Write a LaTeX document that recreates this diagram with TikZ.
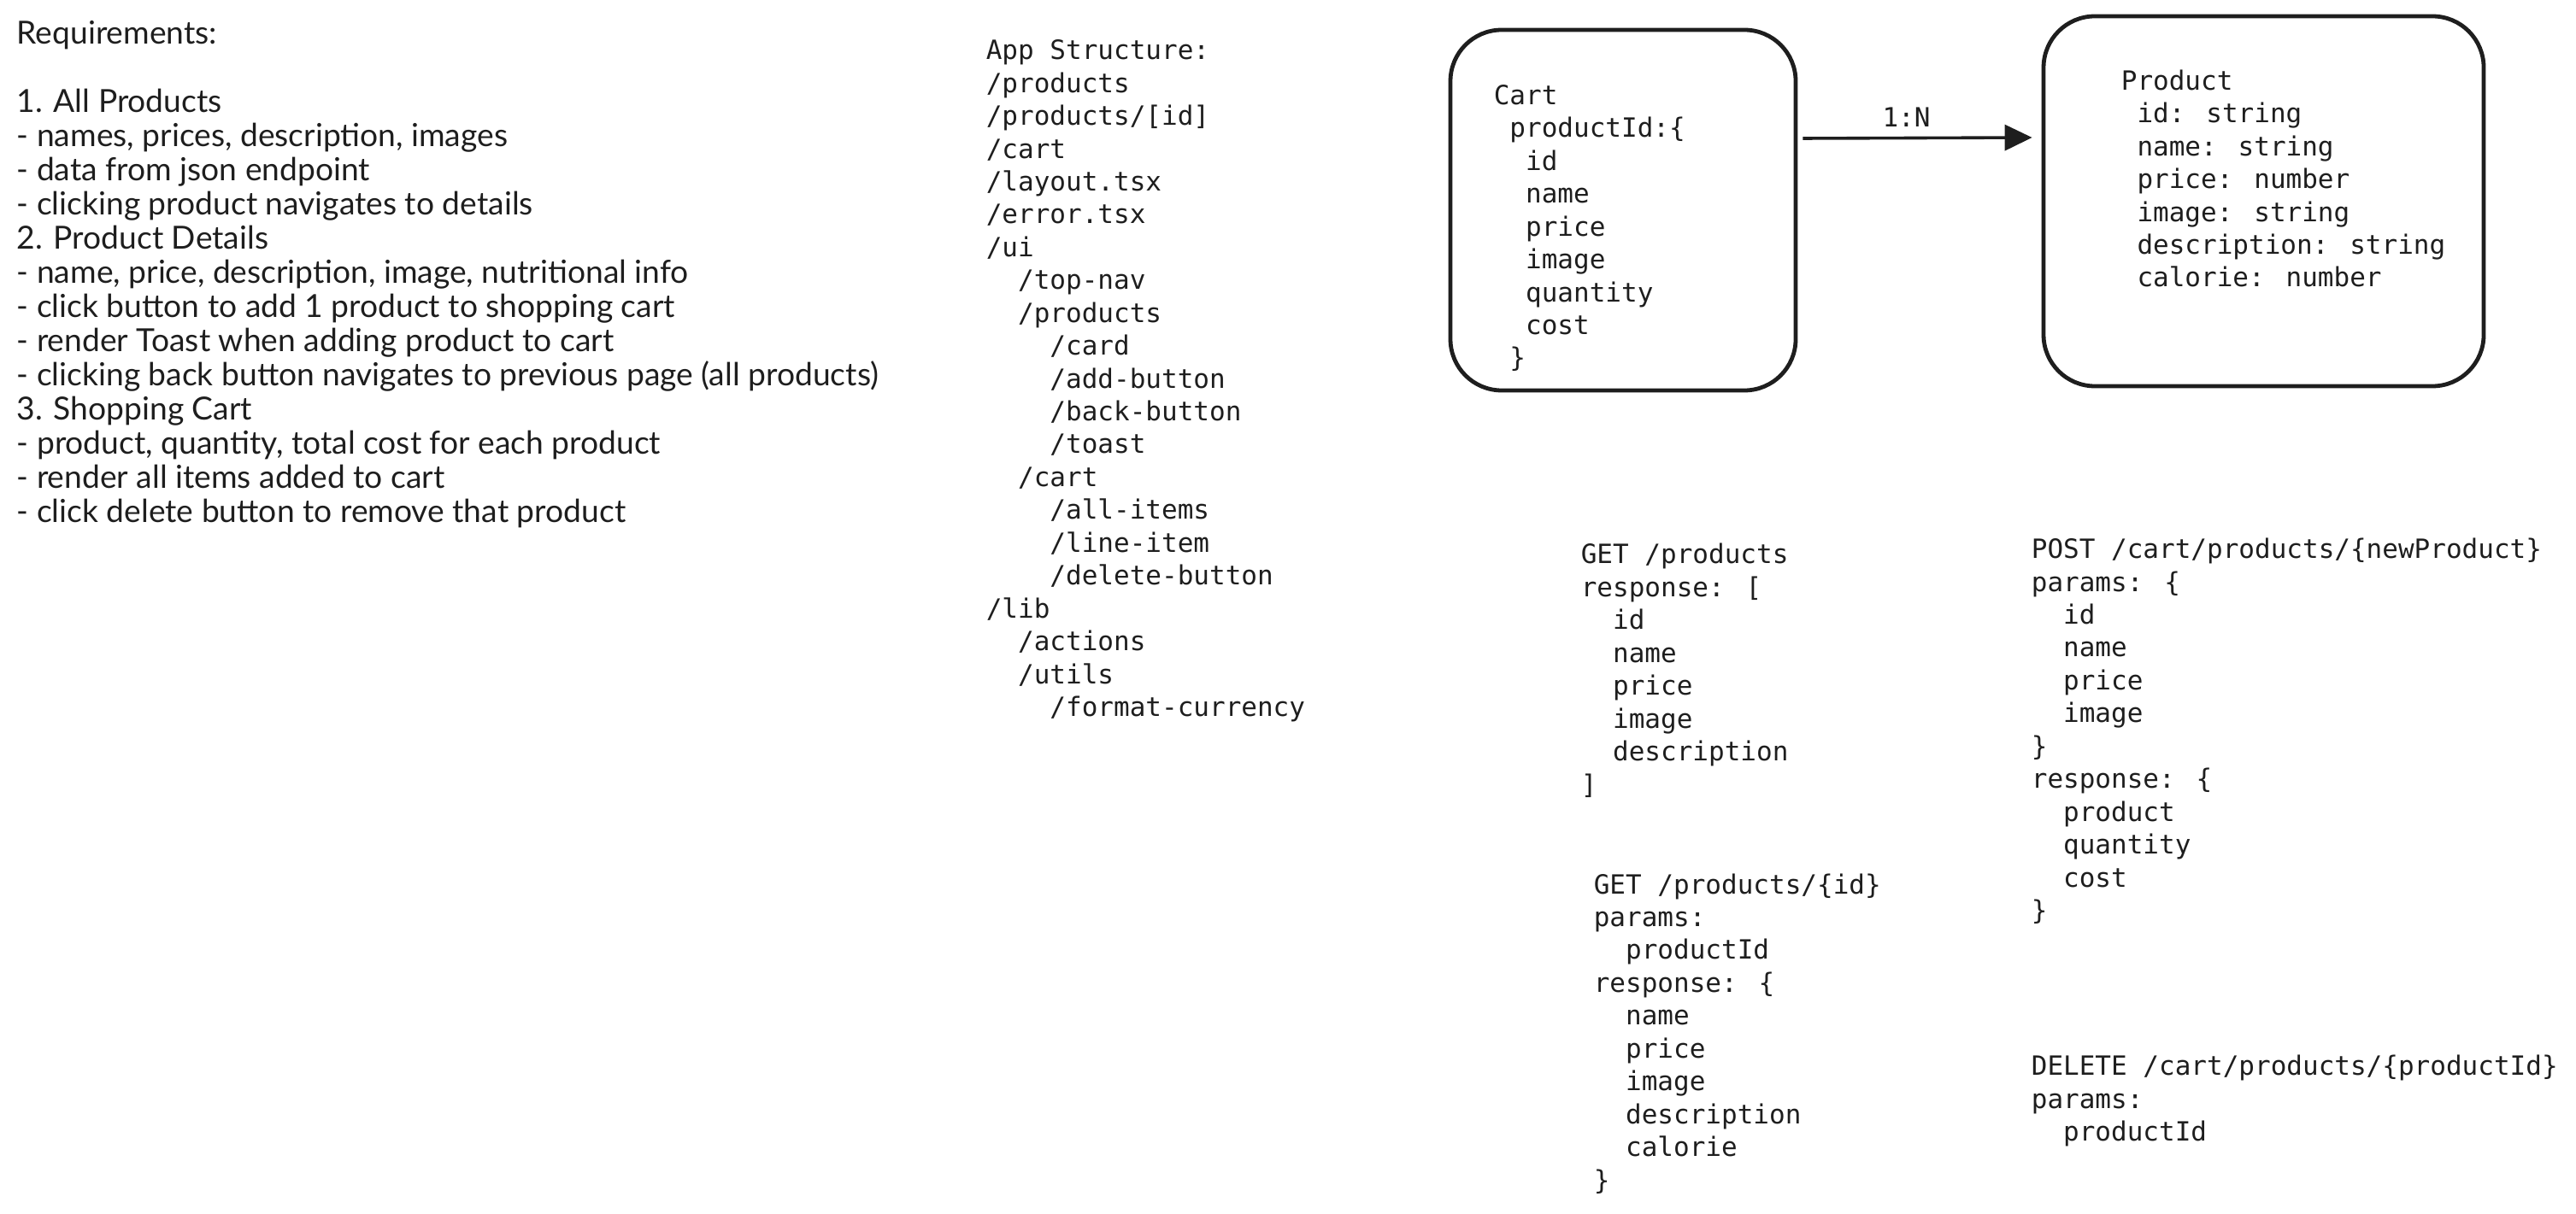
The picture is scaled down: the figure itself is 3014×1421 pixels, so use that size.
\documentclass[tikz,border=0pt]{standalone}
\usepackage{fontspec}
\setmainfont{Lato}
\newfontfamily\codefont{DejaVu Sans Mono}
\usetikzlibrary{arrows.meta}
\definecolor{ink}{HTML}{1E1E1E}
% indent by n monospace character widths
\newcommand{\cind}[1]{\hspace*{#1\fontcharwd\font`0}}
\begin{document}
% multi-line nodes are placed by the baseline of their last line
\begin{tikzpicture}[x=0.25pt,y=-0.25pt,
  hand/.style={anchor=base west, inner sep=0pt, align=left, text=ink,
    font=\fontsize{9.3pt}{10pt}\selectfont},
  code/.style={anchor=base west, inner sep=0pt, align=left, text=ink,
    font=\codefont\fontsize{7.75pt}{9.61pt}\selectfont},
  card/.style={draw=ink, line width=1.2pt, rounded corners=15pt},
  link/.style={draw=ink, line width=0.9pt, -{Triangle[length=8pt,width=7.5pt]}}]
\useasboundingbox (0,0) rectangle (3014,1421);

% requirements list
\node[hand] (req) at (19,612) {Requirements:\\ \mbox{}\\
1. All Products\\
- names, prices, description, images\\
- data from json endpoint\\
- clicking product navigates to details\\
2. Product Details\\
- name, price, description, image, nutritional info\\
- click button to add 1 product to shopping cart\\
- render Toast when adding product to cart\\
- clicking back button navigates to previous page (all products)\\
3. Shopping Cart\\
- product, quantity, total cost for each product\\
- render all items added to cart\\
- click delete button to remove that product};

% folder layout
\node[code] (app) at (1153,838.5) {App Structure:\\
/products\\
/products/[id]\\
/cart\\
/layout.tsx\\
/error.tsx\\
/ui\\
\cind{2}/top-nav\\
\cind{2}/products\\
\cind{4}/card\\
\cind{4}/add-button\\
\cind{4}/back-button\\
\cind{4}/toast\\
\cind{2}/cart\\
\cind{4}/all-items\\
\cind{4}/line-item\\
\cind{4}/delete-button\\
/lib\\
\cind{2}/actions\\
\cind{2}/utils\\
\cind{4}/format-currency};

% data model
\node[card, minimum width=101pt, minimum height=105.5pt] (cart) at (1899,246) {};
\node[card, minimum width=128.75pt, minimum height=108.25pt] (product) at (2648.5,235.5) {};

\node[code] (carttext) at (1747,430) {Cart\\
\cind{1}productId:\{\\
\cind{2}id\\
\cind{2}name\\
\cind{2}price\\
\cind{2}image\\
\cind{2}quantity\\
\cind{2}cost\\
\cind{1}\}};

\node[code] (producttext) at (2481,336) {Product\\
\cind{1}id: string\\
\cind{1}name: string\\
\cind{1}price: number\\
\cind{1}image: string\\
\cind{1}description: string\\
\cind{1}calorie: number};

\draw[link] ([shift={(6,-84)}]cart.east) -- ([shift={(-11,-74.5)}]product.west)
  node[midway, above=2.7pt, xshift=-3.25pt, inner sep=0pt, text=ink,
       font=\codefont\fontsize{7.75pt}{9.61pt}\selectfont] (ratio) {1:N};

% endpoints
\node[code] (getall) at (1849,929) {GET /products\\
response: [\\
\cind{2}id\\
\cind{2}name\\
\cind{2}price\\
\cind{2}image\\
\cind{2}description\\
]};

\node[code] (getone) at (1864,1392) {GET /products/\{id\}\\
params:\\
\cind{2}productId\\
response: \{\\
\cind{2}name\\
\cind{2}price\\
\cind{2}image\\
\cind{2}description\\
\cind{2}calorie\\
\}};

\node[code] (post) at (2376,1076.5) {POST /cart/products/\{newProduct\}\\
params: \{\\
\cind{2}id\\
\cind{2}name\\
\cind{2}price\\
\cind{2}image\\
\}\\
response: \{\\
\cind{2}product\\
\cind{2}quantity\\
\cind{2}cost\\
\}};

\node[code] (delete) at (2376,1335.5) {DELETE /cart/products/\{productId\}\\
params:\\
\cind{2}productId};
\end{tikzpicture}
\end{document}
